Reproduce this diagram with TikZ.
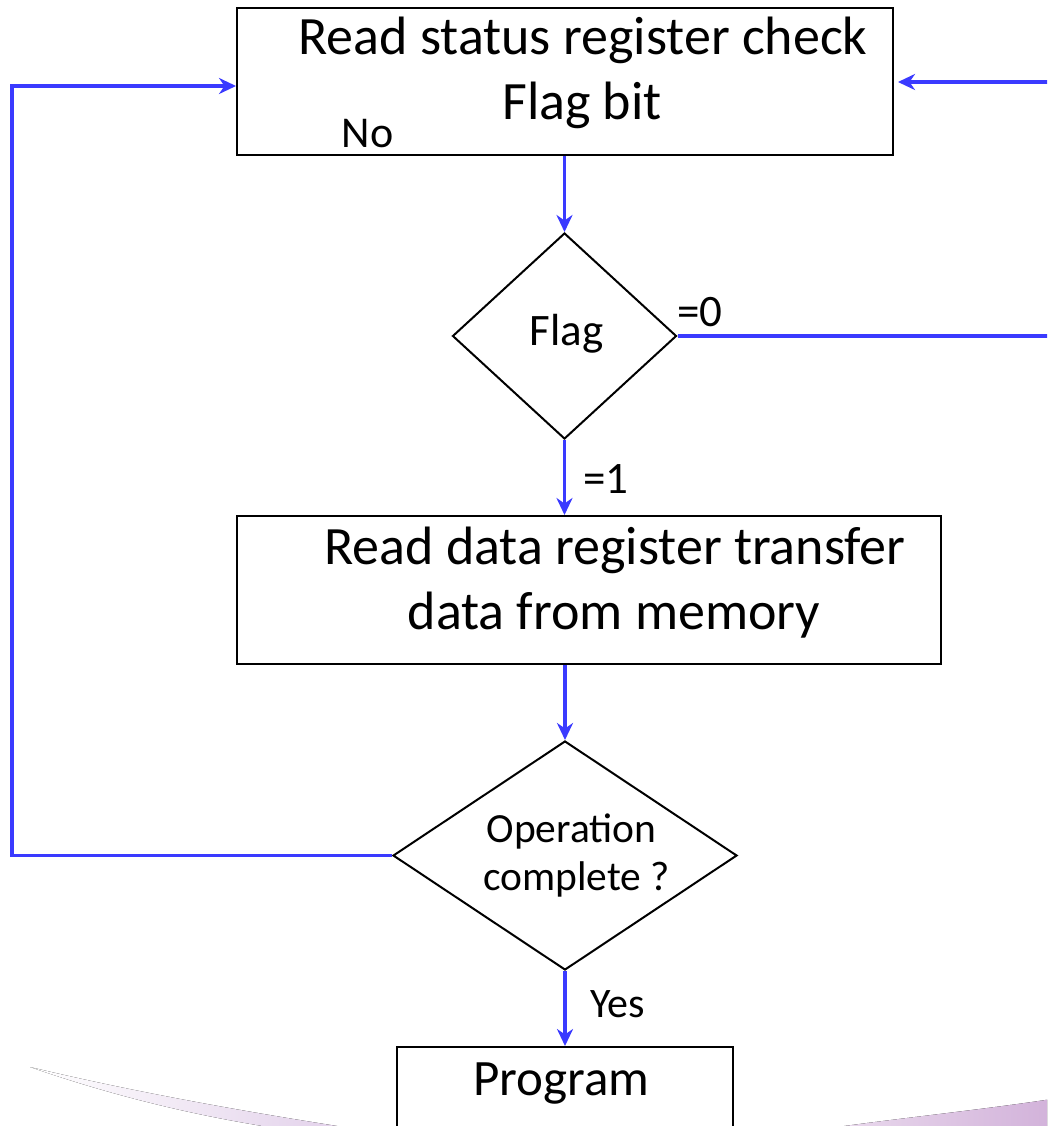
\documentclass[tikz,border=0pt]{standalone}
\usepackage{fontspec}
\setmainfont{Carlito}
\usetikzlibrary{arrows.meta,shapes.geometric}

\definecolor{flowblue}{RGB}{58,58,255}
\definecolor{swooshpale}{RGB}{226,208,234}
\definecolor{swooshdeep}{RGB}{178,120,190}
\definecolor{swooshlight}{RGB}{210,178,218}

\tikzset{
  procbox/.style={draw=black, line width=2pt, fill=white, inner sep=0pt,
    anchor=north west},
  decision/.style={diamond, draw=black, line width=2pt, fill=white,
    inner sep=0pt},
  flow/.style={draw=flowblue, line width=3.2pt,
    -{Stealth[length=17pt, width=16pt, inset=5.5pt]}},
  txt/.style={anchor=base, inner sep=0pt, text=black},
}

\newcommand{\fs}[1]{\fontsize{#1pt}{#1pt}\selectfont}

\begin{document}
\begin{tikzpicture}[x=1pt, y=-1pt]
  \useasboundingbox (0,0) rectangle (1047,1126);
  \fill[white] (0,0) rectangle (1047,1126);
  \clip (0,0) rectangle (1047,1126);

  % decorative swoosh along the bottom edge
  \fill[left color=white, right color=swooshpale]
    (30,1067) .. controls (130,1091) and (240,1111) .. (350,1128)
    -- (275,1128) .. controls (185,1114) and (105,1093) .. (30,1067) -- cycle;
  \fill[left color=swooshdeep!25, middle color=swooshdeep, right color=swooshlight]
    (815,1130) .. controls (900,1118) and (980,1110) .. (1052,1099)
    -- (1052,1130) -- cycle;

  % process boxes
  \node[procbox, minimum width=656pt, minimum height=147pt] (readstatus) at (236,7) {};
  \node[procbox, minimum width=704pt, minimum height=148pt] (readdata) at (236,515) {};
  \node[procbox, minimum width=336pt, minimum height=120pt] (program) at (396,1046) {};

  % decisions
  \node[decision, minimum width=224pt, minimum height=206pt] (flag) at (564.5,336) {};
  \node[decision, minimum width=344pt, minimum height=229pt] (opdone) at (565,855.5) {};

  % texts
  \node[txt, font=\fs{54}] (t1a) at (583,55) {Read status register check};
  \node[txt, font=\fs{54}] (t1b) at (582,120) {Flag bit};
  \node[txt, font=\fs{45}] (tflag) at (566.5,345) {Flag};
  \node[txt, font=\fs{54}] (t2a) at (615,564) {Read data register transfer};
  \node[txt, font=\fs{54}] (t2b) at (614,629) {data from memory};
  \node[txt, font=\fs{41.5}] (t3a) at (571.5,842) {Operation};
  \node[txt, font=\fs{41.5}] (t3b) at (576.5,890) {complete ?};
  \node[txt, font=\fs{51}] (tprog) at (561.5,1095) {Program};

  % connector labels
  \node[txt, font=\fs{45}] (lzero) at (700,326) {=0};
  \node[txt, font=\fs{45}] (lone) at (606,493) {=1};
  \node[txt, font=\fs{42}] (lyes) at (617.5,1017) {Yes};
  \node[txt, font=\fs{44}] (lno) at (367.5,148) {No};

  % connectors
  \coordinate (loopcorner) at (12,86);
  \coordinate (retcorner) at (1062,82);

  \draw[flow] (readstatus.south -| flag.north) -- (flag.north);
  \draw[flow] (flag.south) -- (readdata.north -| flag.south);
  \draw[flow] (readdata.south -| opdone.north) -- (opdone.north);
  \draw[flow] (opdone.south) -- (program.north -| opdone.south);
  \draw[flow] (opdone.west) -| (loopcorner) -- (readstatus.west |- loopcorner);
  \draw[flow, shorten >=4pt] (flag.east) -| (retcorner) -- (readstatus.east |- retcorner);
\end{tikzpicture}
\end{document}
